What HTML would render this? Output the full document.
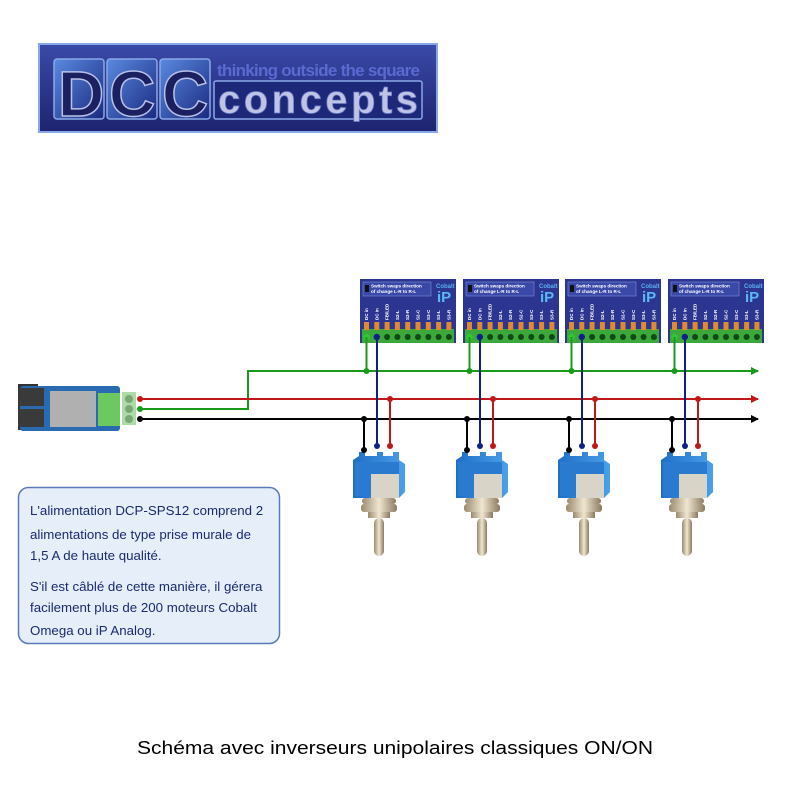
<!DOCTYPE html>
<html><head><meta charset="utf-8"><style>
html,body{margin:0;padding:0;background:#fff;}
body{width:800px;height:800px;overflow:hidden;position:relative;font-family:"Liberation Sans",sans-serif;}
</style></head><body>
<svg width="800" height="800" viewBox="0 0 800 800" xmlns="http://www.w3.org/2000/svg" style="position:absolute;left:0;top:0">
<defs>
<linearGradient id="lg" x1="0" y1="0" x2="0" y2="1"><stop offset="0" stop-color="#3a4aa8"/><stop offset="1" stop-color="#1e2470"/></linearGradient>
<linearGradient id="cell" x1="0" y1="0" x2="1" y2="1"><stop offset="0" stop-color="#5a8ae0"/><stop offset="1" stop-color="#1a2a80"/></linearGradient>
<linearGradient id="sw" x1="0" y1="0" x2="1" y2="0"><stop offset="0" stop-color="#1e6ec8"/><stop offset="1" stop-color="#4aa0e8"/></linearGradient>
<linearGradient id="met" x1="0" y1="0" x2="1" y2="0"><stop offset="0" stop-color="#9a8a70"/><stop offset=".5" stop-color="#f0e6d0"/><stop offset="1" stop-color="#8a7a60"/></linearGradient>
<marker id="ag" markerWidth="8" markerHeight="8" refX="7" refY="4" orient="auto" markerUnits="userSpaceOnUse"><path d="M0,0 L8,4 L0,8z" fill="#1a9a1a"/></marker>
<marker id="ar" markerWidth="8" markerHeight="8" refX="7" refY="4" orient="auto" markerUnits="userSpaceOnUse"><path d="M0,0 L8,4 L0,8z" fill="#c01818"/></marker>
<marker id="ak" markerWidth="8" markerHeight="8" refX="7" refY="4" orient="auto" markerUnits="userSpaceOnUse"><path d="M0,0 L8,4 L0,8z" fill="#000"/></marker>
<g id="board">
<rect x="0" y="0" width="96" height="64" fill="#2c3590"/>
<rect x="3" y="3" width="68" height="14" fill="#3a48a8" stroke="#8aa0e0" stroke-width=".5"/>
<rect x="5" y="6" width="4" height="7" fill="#111"/>
<text x="11" y="8.5" font-size="4.6" fill="#fff" font-weight="bold">Switch swaps direction</text>
<text x="11" y="14" font-size="4.6" fill="#fff" font-weight="bold">of change L-R to R-L</text>
<text x="76" y="9" font-size="6" fill="#5ab0f0" font-weight="bold">Cobalt</text>
<text x="77" y="23" font-size="15" fill="#5ab8f8" font-weight="bold">iP</text>
<g font-size="4.5" fill="#fff" font-weight="bold">
<text transform="translate(8,41) rotate(-90)">DC in</text>
<text transform="translate(18.3,41) rotate(-90)">DC in</text>
<text transform="translate(28.6,41) rotate(-90)">FB/LED</text>
<text transform="translate(38.9,41) rotate(-90)">S2-L</text>
<text transform="translate(49.2,41) rotate(-90)">S2-R</text>
<text transform="translate(59.5,41) rotate(-90)">S2-C</text>
<text transform="translate(69.8,41) rotate(-90)">S3-C</text>
<text transform="translate(80.1,41) rotate(-90)">S3-L</text>
<text transform="translate(90.4,41) rotate(-90)">S3-R</text>
</g>
<rect x="2" y="50" width="92" height="14" fill="#3ca83c"/>
<g fill="#e08a30">
<rect x="4" y="43" width="5" height="8"/><rect x="14.3" y="43" width="5" height="8"/><rect x="24.6" y="43" width="5" height="8"/><rect x="34.9" y="43" width="5" height="8"/><rect x="45.2" y="43" width="5" height="8"/><rect x="55.5" y="43" width="5" height="8"/><rect x="65.8" y="43" width="5" height="8"/><rect x="76.1" y="43" width="5" height="8"/><rect x="86.4" y="43" width="5" height="8"/>
</g>
<g fill="#0f4a14">
<circle cx="6.5" cy="58" r="3.2" fill="#2ec82e"/><circle cx="16.8" cy="58" r="3.2" fill="#10208a"/><circle cx="27.1" cy="58" r="3"/><circle cx="37.4" cy="58" r="3"/><circle cx="47.7" cy="58" r="3"/><circle cx="58" cy="58" r="3"/><circle cx="68.3" cy="58" r="3"/><circle cx="78.6" cy="58" r="3"/><circle cx="88.9" cy="58" r="3"/>
</g>
</g>
<g id="switch">
<path d="M0,8 L6,4 L6,0 L12,0 L12,4 L24,4 L24,0 L30,0 L30,4 L40,4 L40,0 L46,0 L46,8 L52,12 L52,40 L46,46 L0,46 Z" fill="url(#sw)"/>
<rect x="2" y="10" width="44" height="34" fill="#2a7ad0"/>
<rect x="18" y="22" width="28" height="24" fill="#d8d4c8"/>
<rect x="9" y="46" width="34" height="6" rx="3" fill="url(#met)"/>
<rect x="8" y="52" width="36" height="8" rx="3" fill="url(#met)"/>
<rect x="15" y="60" width="22" height="6" fill="url(#met)"/>
<rect x="21" y="66" width="10" height="38" rx="5" fill="url(#met)"/>
</g>
</defs>

<!-- logo -->
<rect x="38" y="43" width="400" height="90" fill="#8aa8e8"/>
<rect x="40" y="45" width="396" height="86" fill="url(#lg)"/>
<g stroke="#8aa8e8" stroke-width="1.5" fill="url(#cell)">
<rect x="54" y="59" width="50" height="60" rx="3"/>
<rect x="107" y="59" width="50" height="60" rx="3"/>
<rect x="160" y="59" width="50" height="60" rx="3"/>
<rect x="214" y="81" width="208" height="38" rx="2" fill="#1e2878"/>
</g>
<g font-size="64" font-weight="bold" fill="#1a2060" stroke="#b8c0e8" stroke-width="1.5">
<text x="58" y="116">D</text><text x="109" y="116">C</text><text x="162" y="116">C</text>
</g>
<text x="217" y="76" font-size="17" fill="#5a6ad0" font-weight="bold" textLength="203">thinking outside the square</text>
<text x="218" y="113" font-size="40" font-weight="bold" fill="#c0c4e4" stroke="#6a7ac8" stroke-width=".8" textLength="200">concepts</text>

<!-- power module -->
<rect x="18" y="384" width="20" height="46" fill="#333"/>
<rect x="20" y="386" width="100" height="45" rx="3" fill="#2a6ab0"/>
<rect x="18" y="388" width="26" height="18" fill="#3a3a3a"/><rect x="18" y="409" width="26" height="18" fill="#3a3a3a"/>
<rect x="50" y="391" width="46" height="36" fill="#b0b0b0"/>
<rect x="98" y="393" width="22" height="33" fill="#6cc860"/>
<circle cx="129" cy="399" r="4" fill="#999"/><circle cx="129" cy="409" r="4" fill="#999"/><circle cx="129" cy="419" r="4" fill="#999"/>
<rect x="122" y="392" width="14" height="33" fill="#5ab850" opacity=".5"/>

<!-- buses -->
<polyline points="140,409 248,409 248,371 758,371" fill="none" stroke="#1a9a1a" stroke-width="2" marker-end="url(#ag)"/>
<line x1="140" y1="399" x2="758" y2="399" stroke="#c01818" stroke-width="2" marker-end="url(#ar)"/>
<line x1="140" y1="419" x2="758" y2="419" stroke="#000" stroke-width="2" marker-end="url(#ak)"/>
<circle cx="140" cy="399" r="3" fill="#c01818"/><circle cx="140" cy="409" r="3" fill="#1a9a1a"/><circle cx="140" cy="419" r="3" fill="#000"/>

<!-- units -->
<g id="unit" transform="translate(0,0)">
<use href="#board" x="360" y="279"/>
<line x1="366.5" y1="337" x2="366.5" y2="371" stroke="#1a9a1a" stroke-width="2"/>
<circle cx="366.5" cy="371" r="3" fill="#1a9a1a"/>
<use href="#switch" x="353" y="452"/>
<line x1="377" y1="337" x2="377" y2="446" stroke="#10208a" stroke-width="2"/>
<circle cx="377" cy="446" r="3" fill="#10208a"/>
<line x1="390" y1="399" x2="390" y2="446" stroke="#c01818" stroke-width="2"/>
<circle cx="390" cy="399" r="3" fill="#c01818"/><circle cx="390" cy="446" r="3" fill="#c01818"/>
<line x1="364" y1="419" x2="364" y2="450" stroke="#000" stroke-width="2"/>
<circle cx="364" cy="419" r="3" fill="#000"/><circle cx="364" cy="450" r="3" fill="#000"/>
</g>
<use href="#unit" x="103"/>
<use href="#unit" x="205"/>
<use href="#unit" x="308"/>

<!-- text box -->
<rect x="18.5" y="487.5" width="261" height="156" rx="10" fill="#e6eefa" stroke="#5a7ab8" stroke-width="1.5"/>
<g font-size="13.3" fill="#1a2a70">
<text x="30" y="515">L'alimentation DCP-SPS12 comprend 2</text>
<text x="30" y="539">alimentations de type prise murale de</text>
<text x="30" y="560">1,5 A de haute qualité.</text>
<text x="30" y="591">S'il est câblé de cette manière, il gérera</text>
<text x="30" y="612">facilement plus de 200 moteurs Cobalt</text>
<text x="30" y="635">Omega ou iP Analog.</text>
</g>
<text x="137" y="754" font-size="18" fill="#000" textLength="516" lengthAdjust="spacingAndGlyphs">Schéma avec inverseurs unipolaires classiques ON/ON</text>
</svg>
</body></html>
